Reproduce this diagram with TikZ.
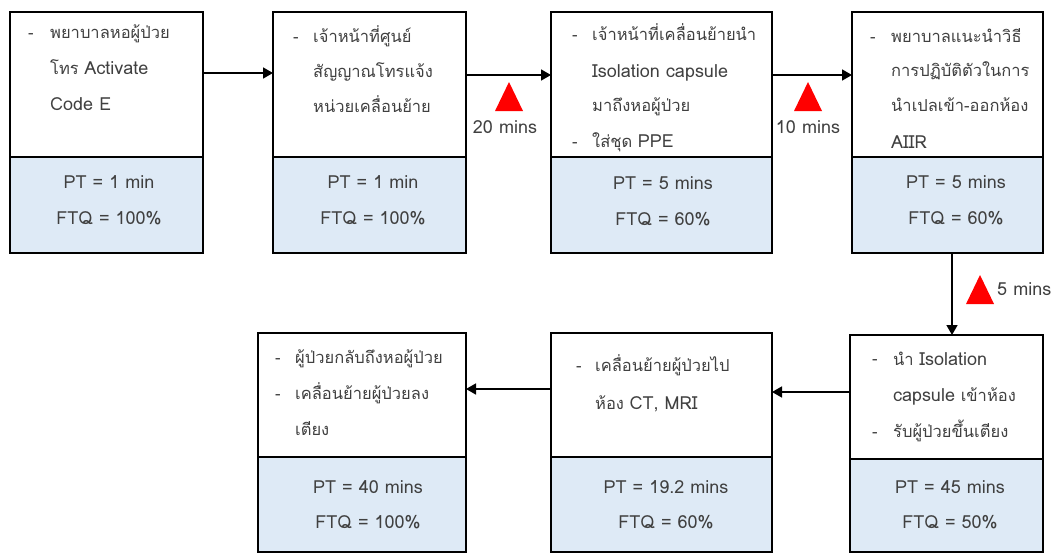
\documentclass[tikz,border=0pt]{standalone}
\usepackage{fontspec}
\setmainfont[Script=Thai]{Loma}
\usetikzlibrary{arrows.meta,calc}
\definecolor{ltblue}{HTML}{DEEAF6}
\definecolor{txtgray}{HTML}{404040}
\newcommand{\en}[1]{{\fontsize{18}{18}\selectfont #1}}
\tikzset{
  boxpart/.style={draw=black,line width=1.6pt,inner sep=0pt,outer sep=0pt,anchor=north west},
  upper/.style={boxpart,fill=white},
  lower/.style={boxpart,fill=ltblue},
  ln/.style={anchor=base west,inner sep=0pt,text=txtgray,font=\fontsize{16.5}{18}\selectfont},
  mid/.style={anchor=base,inner sep=0pt,text=txtgray,font=\fontsize{18}{18}\selectfont},
  arr/.style={line width=1.6pt,-{Triangle[length=10pt,width=11pt]}},
  delay/.style={fill=red,draw=none}
}
\begin{document}
\begin{tikzpicture}[x=1pt,y=-1pt]
\useasboundingbox (0,0) rectangle (1059,554);
% top row
\node[upper,minimum width=193,minimum height=145] (b1u) at (10,12) {};
\node[lower,minimum width=193,minimum height=96] (b1l) at (10,157) {};
\node[upper,minimum width=193,minimum height=145] (b2u) at (273,12) {};
\node[lower,minimum width=193,minimum height=96] (b2l) at (273,157) {};
\node[upper,minimum width=221,minimum height=145] (b3u) at (551,12) {};
\node[lower,minimum width=221,minimum height=96] (b3l) at (551,157) {};
\node[upper,minimum width=191,minimum height=145] (b4u) at (852,12) {};
\node[lower,minimum width=191,minimum height=96] (b4l) at (852,157) {};
% bottom row
\node[upper,minimum width=193,minimum height=124] (b5u) at (850,335) {};
\node[lower,minimum width=193,minimum height=93] (b5l) at (850,459) {};
\node[upper,minimum width=221,minimum height=124] (b6u) at (551,333) {};
\node[lower,minimum width=221,minimum height=95] (b6l) at (551,457) {};
\node[upper,minimum width=208,minimum height=124] (b7u) at (258,333) {};
\node[lower,minimum width=208,minimum height=95] (b7l) at (258,457) {};

% box 1 text
\node[ln] (t1d) at (28,38) {-};
\node[ln] (t1a) at (50,38) {พยาบาลหอผู้ป่วย};
\node[ln] (t1b) at (50,74) {โทร \en{Activate}};
\node[ln] (t1c) at (50,110) {\en{Code E}};
\node[mid] (p1) at (109,188) {PT = 1 min};
\node[mid] (f1) at (109,224) {FTQ = 100\%};
% box 2 text
\node[ln] (t2d) at (293,42) {-};
\node[ln] (t2a) at (313,42) {เจ้าหน้าที่ศูนย์};
\node[ln] (t2b) at (313,77) {สัญญาณโทรแจ้ง};
\node[ln] (t2c) at (313,112) {หน่วยเคลื่อนย้าย};
\node[mid] (p2) at (373,188) {PT = 1 min};
\node[mid] (f2) at (373,224) {FTQ = 100\%};
% box 3 text
\node[ln] (t3d) at (572,40) {-};
\node[ln] (t3a) at (592,40) {เจ้าหน้าที่เคลื่อนย้ายนำ};
\node[ln] (t3b) at (592,77) {\en{Isolation capsule}};
\node[ln] (t3c) at (592,111) {มาถึงหอผู้ป่วย};
\node[ln] (t3e) at (572,147) {-};
\node[ln] (t3f) at (592,147) {ใส่ชุด \en{PPE}};
\node[mid] (p3) at (663,189) {PT = 5 mins};
\node[mid] (f3) at (663,225) {FTQ = 60\%};
% box 4 text
\node[ln] (t4d) at (870,42) {-};
\node[ln] (t4a) at (891,42) {พยาบาลแนะนำวิธี};
\node[ln] (t4b) at (891,76) {การปฏิบัติตัวในการ};
\node[ln] (t4c) at (891,111) {นำเปลเข้า-ออกห้อง};
\node[ln] (t4e) at (891,148) {\en{AIIR}};
\node[mid] (p4) at (956,188) {PT = 5 mins};
\node[mid] (f4) at (956,224) {FTQ = 60\%};
% box 5 text
\node[ln] (t5d) at (872,364) {-};
\node[ln] (t5a) at (893,365) {นำ \en{Isolation}};
\node[ln] (t5b) at (893,401) {\en{capsule} เข้าห้อง};
\node[ln] (t5e) at (872,437) {-};
\node[ln] (t5c) at (893,437) {รับผู้ป่วยขึ้นเตียง};
\node[mid] (p5) at (950,493) {PT = 45 mins};
\node[mid] (f5) at (950,528) {FTQ = 50\%};
% box 6 text
\node[ln] (t6d) at (576,371) {-};
\node[ln] (t6a) at (595,371) {เคลื่อนย้ายผู้ป่วยไป};
\node[ln] (t6b) at (595,409) {ห้อง \en{CT, MRI}};
\node[mid] (p6) at (666,493) {PT = 19.2 mins};
\node[mid] (f6) at (666,528) {FTQ = 60\%};
% box 7 text
\node[ln] (t7d) at (275,363) {-};
\node[ln] (t7a) at (295,363) {ผู้ป่วยกลับถึงหอผู้ป่วย};
\node[ln] (t7e) at (275,399) {-};
\node[ln] (t7b) at (295,399) {เคลื่อนย้ายผู้ป่วยลง};
\node[ln] (t7c) at (295,435) {เตียง};
\node[mid] (p7) at (368,493) {PT = 40 mins};
\node[mid] (f7) at (368,528) {FTQ = 100\%};

% connectors
\draw[arr] (b1u.east |- 0,73) -- (b2u.west |- 0,73);
\draw[arr] (b2u.east |- 0,75) -- (b3u.west |- 0,75);
\draw[arr] (b3u.east |- 0,75) -- (b4u.west |- 0,75);
\draw[arr] (b4l.south -| 952,0) -- (b5u.north -| 952,0);
\draw[arr] (b5u.west |- 0,392) -- (b6u.east |- 0,392);
\draw[arr] (b6u.west |- 0,389) -- (b7u.east |- 0,389);

% delays
\coordinate (d1) at (509,97);
\coordinate (d2) at (808,97);
\coordinate (d3) at (980,290);
\fill[delay] ($(d1)+(-14,14)$) -- ($(d1)+(14,14)$) -- ($(d1)+(0,-15)$) -- cycle;
\fill[delay] ($(d2)+(-14,14)$) -- ($(d2)+(14,14)$) -- ($(d2)+(0,-15)$) -- cycle;
\fill[delay] ($(d3)+(-14,14)$) -- ($(d3)+(14,14)$) -- ($(d3)+(0,-15)$) -- cycle;
\node[mid] (l1) at (505,133) {20 mins};
\node[mid] (l2) at (808,133) {10 mins};
\node[ln] (l3) at (997,295) {\en{5 mins}};
\end{tikzpicture}
\end{document}
